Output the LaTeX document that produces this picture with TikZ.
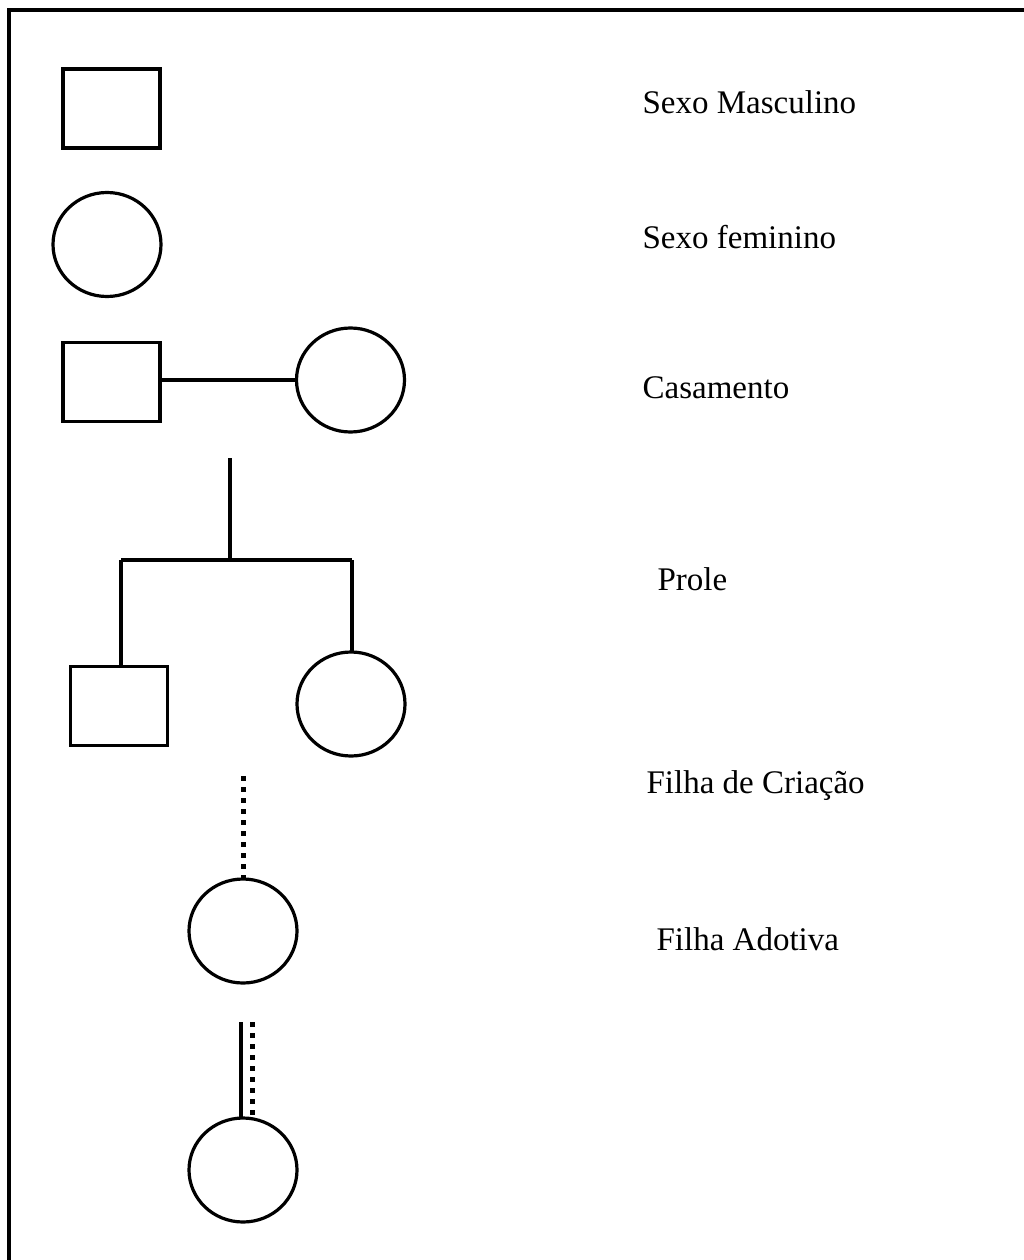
\documentclass[tikz,border=0pt]{standalone}
\usepackage{fontspec}
\setmainfont{Liberation Serif}
\usetikzlibrary{shapes.geometric}
\begin{document}
\begin{tikzpicture}[x=1pt,y=-1pt,
  line width=3.2pt,
  male/.style={draw,rectangle,inner sep=0pt,outer sep=0pt,minimum width=97pt,minimum height=79pt},
  female/.style={draw,ellipse,inner sep=0pt,outer sep=0pt,minimum width=108pt,minimum height=104pt},
  legend/.style={anchor=base west,inner sep=0pt,font=\fontsize{33}{38}\selectfont},
  dots/.style={line width=5pt,dash pattern=on 5pt off 6pt}]
  \useasboundingbox (0,0) rectangle (1024,1260);
  % outer frame
  \draw (9,1262) -- (9,10) -- (1026,10);

  % symbols
  \node[male] (m1) at (111.5,108.5) {};
  \node[female] (f1) at (107,244.5) {};
  \node[male] (m2) at (111.5,382) {};
  \node[female] (f2) at (350.5,380) {};
  \draw (m2.east |- f2.west) -- (f2.west);

  % offspring
  \coordinate (pt) at (230,458);
  \coordinate (pb) at (230,560);
  \coordinate (pl) at (121,560);
  \coordinate (pr) at (352,560);
  \node[male] (m3) at (119,706) {};
  \node[female] (f3) at (351,704) {};
  \draw (pt) -- (pb);
  \draw (pl) -- (pr);
  \draw (pl) -- (pl |- m3.north);
  \draw (pr) -- (pr |- f3.north);

  % foster daughter
  \node[female] (f4) at (243,931) {};
  \coordinate (ct) at (243,776);
  \draw[dots] (ct) -- (f4.north);

  % adopted daughter
  \node[female] (f5) at (243,1170) {};
  \coordinate (as) at (241,1022);
  \coordinate (ad) at (252,1022);
  \draw (as) -- (as |- f5.north);
  \draw[dots] (ad) -- (252,1119);

  % labels
  \node[legend] (t1) at (641,114) {Sexo Masculino};
  \node[legend] (t2) at (641,248) {Sexo feminino};
  \node[legend] (t3) at (641,398) {Casamento};
  \node[legend] (t4) at (656,590) {Prole};
  \node[legend] (t5) at (645,793) {Filha de Criação};
  \node[legend] (t6) at (655,950) {Filha Adotiva};
\end{tikzpicture}
\end{document}
